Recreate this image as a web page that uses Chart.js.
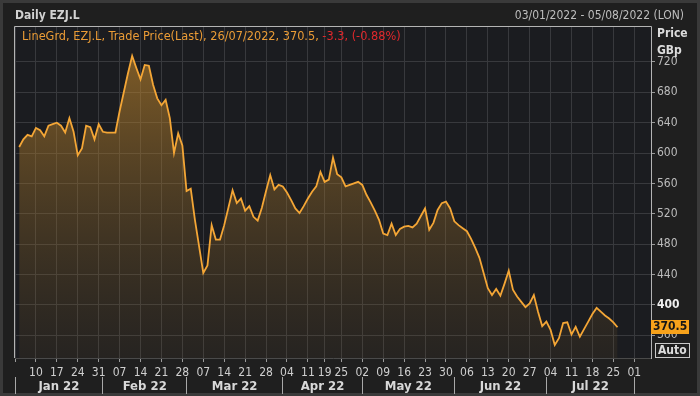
<!DOCTYPE html>
<html>
<head>
<meta charset="utf-8">
<title>Daily EZJ.L</title>
<script src="https://cdn.jsdelivr.net/npm/chart.js@4.4.0/dist/chart.umd.min.js"></script>
<style>
  html, body { margin: 0; padding: 0; background: #1e1e1e; }
  canvas { display: block; }
</style>
</head>
<body>
<canvas id="price-chart" width="700" height="396"></canvas>
<script>
// trading calendar shown on the axis (weekdays, Easter closed)
const START = "2022-01-03";
const END = "2022-08-05";
const HOLIDAYS = ["2022-04-15", "2022-04-18"];
const MONTH_NAMES = ["Jan", "Feb", "Mar", "Apr", "May", "Jun", "Jul", "Aug"];

// EZJ.L close, GBp, from 04/01/2022 to 26/07/2022
const PRICES = [
  608, 618, 624, 622, 633, 630, 622, 636, 638, 640,
  636, 627, 646, 628, 597, 606, 636, 634, 618, 638,
  628, 627, 627, 627, 655, 680, 705, 728, 712, 697,
  716, 715, 690, 672, 663, 670, 646, 600, 626, 610,
  550, 553, 512, 477, 442, 452, 505, 486, 486, 505,
  528, 551, 534, 540, 524, 530, 516, 511, 528, 550,
  571, 552, 558, 556, 548, 538, 527, 521, 530, 540,
  549, 556, 575, 562, 565, 594, 572, 568, 556, 558,
  560, 562, 558, 545, 535, 524, 512, 494, 492, 507,
  492, 500, 503, 504, 502, 507, 517, 527, 499, 508,
  525, 534, 536, 527, 510, 505, 501, 497, 487, 475,
  462, 442, 422, 413, 421, 412, 428, 445, 420, 411,
  404, 397, 402, 413, 391, 372, 378, 367, 347, 356,
  376, 377, 361, 371, 358, 368, 378, 388, 396, 391,
  386, 382, 377, 370.5
];
const LAST = 370.5;
const Y_TICKS = [360, 400, 440, 480, 520, 560, 600, 640, 680, 720];

const FONT = '"Liberation Sans Narrow", "DejaVu Sans Condensed", "Liberation Sans", sans-serif';
const ORANGE = "#f4a636";

// build the list of trading days
const DATES = [];
for (let d = new Date(START + "T00:00:00Z"); d <= new Date(END + "T00:00:00Z"); d.setUTCDate(d.getUTCDate() + 1)) {
  const dow = d.getUTCDay();
  const iso = d.toISOString().slice(0, 10);
  if (dow === 0 || dow === 6 || HOLIDAYS.includes(iso)) continue;
  DATES.push(new Date(d));
}
const LABELS = DATES.map((d) => d.toISOString().slice(0, 10));

// first trading day of each week / month
const WEEK_STARTS = DATES.map((d, i) => i).filter(
  (i) => i === 0 || DATES[i].getUTCDay() < DATES[i - 1].getUTCDay()
);
const MONTH_STARTS = DATES.map((d, i) => i).filter(
  (i) => i === 0 || DATES[i].getUTCMonth() !== DATES[i - 1].getUTCMonth()
);

const monthTicks = [];
MONTH_STARTS.forEach((s, k) => {
  monthTicks.push({ value: s, name: "", sep: true });
  const next = MONTH_STARTS[k + 1];
  if (next !== undefined) {
    monthTicks.push({
      value: (s + next) / 2,
      name: MONTH_NAMES[DATES[s].getUTCMonth()] + " 22",
      sep: false,
    });
  }
});

const decor = {
  id: "decor",
  beforeDraw(chart) {
    const { ctx, chartArea: a } = chart;
    ctx.save();
    ctx.fillStyle = "#1f1f1f";
    ctx.fillRect(0, 0, chart.width, chart.height);
    ctx.strokeStyle = "#3a3a3a";
    ctx.lineWidth = 3;
    ctx.strokeRect(1.5, 1.5, chart.width - 3, chart.height - 3);
    ctx.fillStyle = "#1b1c20";
    ctx.fillRect(a.left, a.top, a.right - a.left, a.bottom - a.top);
    ctx.restore();
  },
  afterDraw(chart) {
    const { ctx, chartArea: a } = chart;
    const y = chart.scales.y;
    ctx.save();

    // plot frame
    ctx.lineWidth = 1;
    ctx.strokeStyle = "#b4b4b4";
    ctx.beginPath();
    ctx.moveTo(a.left - 0.5, a.bottom);
    ctx.lineTo(a.left - 0.5, a.top - 0.5);
    ctx.lineTo(a.right + 0.5, a.top - 0.5);
    ctx.lineTo(a.right + 0.5, a.bottom);
    ctx.stroke();

    // header
    ctx.textBaseline = "middle";
    ctx.font = "bold 12px " + FONT;
    ctx.fillStyle = "#d2d2d2";
    ctx.textAlign = "left";
    ctx.fillText("Daily EZJ.L", 15, 16);
    ctx.font = "12px " + FONT;
    ctx.fillStyle = "#bdbdbd";
    ctx.textAlign = "right";
    ctx.fillText("03/01/2022 - 05/08/2022 (LON)", 684, 16);

    // legend line
    ctx.textAlign = "left";
    ctx.font = "12.6px " + FONT;
    const part1 = "LineGrd, EZJ.L, Trade Price(Last), 26/07/2022, 370.5, ";
    ctx.fillStyle = "#eb9c36";
    ctx.fillText(part1, 22, 37);
    ctx.fillStyle = "#e0282c";
    ctx.fillText("-3.3, (-0.88%)", 22 + ctx.measureText(part1).width, 37);

    // axis unit
    ctx.font = "bold 12px " + FONT;
    ctx.fillStyle = "#dcdcdc";
    ctx.fillText("Price", 657, 34);
    ctx.fillText("GBp", 657, 51);

    // last price tag
    const ty = Math.round(y.getPixelForValue(LAST));
    ctx.fillStyle = "#f7a21b";
    ctx.fillRect(a.right, ty - 7, 38, 14);
    ctx.fillStyle = "#161616";
    ctx.font = "bold 12px " + FONT;
    ctx.fillText(String(LAST), a.right + 2, ty);

    // Auto button
    ctx.strokeStyle = "#c8c8c8";
    ctx.strokeRect(655.5, 343.5, 34, 14);
    ctx.fillStyle = "#dcdcdc";
    ctx.fillText("Auto", 658, 351);
    ctx.restore();
  },
};

new Chart(document.getElementById("price-chart"), {
  type: "line",
  data: {
    labels: LABELS,
    datasets: [
      {
        label: "EZJ.L",
        data: [null].concat(PRICES),
        borderColor: ORANGE,
        borderWidth: 1.8,
        pointRadius: 0,
        tension: 0,
        fill: "start",
        backgroundColor: (c) => {
          const a = c.chart.chartArea;
          if (!a) return "rgba(200,140,45,0.4)";
          const g = c.chart.ctx.createLinearGradient(0, a.top, 0, a.bottom);
          g.addColorStop(0, "rgba(210,145,45,0.6)");
          g.addColorStop(1, "rgba(120,90,40,0.12)");
          return g;
        },
      },
    ],
  },
  options: {
    responsive: false,
    animation: false,
    layout: { padding: { left: 15, top: 27, right: 0, bottom: 2 } },
    plugins: {
      legend: { display: false },
      tooltip: { enabled: false },
    },
    scales: {
      x: {
        type: "category",
        position: "bottom",
        offset: false,
        afterBuildTicks: (scale) => {
          scale.ticks = WEEK_STARTS.map((i) => ({ value: i }));
        },
        afterFit: (scale) => {
          scale.height = 19;
        },
        ticks: {
          autoSkip: false,
          maxRotation: 0,
          padding: 4,
          color: "#cfcfcf",
          font: { family: FONT, size: 12 },
          callback: (value) =>
            value === 0 ? "" : String(DATES[value].getUTCDate()).padStart(2, "0"),
        },
        grid: {
          color: "#38393d",
          tickColor: "#9a9a9a",
          tickLength: 4,
        },
        border: { color: "#4a4a4a" },
      },
      months: {
        type: "category",
        position: "bottom",
        offset: false,
        afterBuildTicks: (scale) => {
          scale.ticks = monthTicks.map((t) => ({ ...t }));
        },
        afterFit: (scale) => {
          scale.height = 17;
        },
        ticks: {
          autoSkip: false,
          maxRotation: 0,
          padding: -15,
          color: "#d8d8d8",
          font: { family: FONT, size: 13, weight: "bold" },
          callback: (value, index, ticks) => ticks[index].name,
        },
        grid: {
          drawOnChartArea: false,
          tickLength: 17,
          tickColor: (c) => (c.tick && c.tick.sep ? "#a8a8a8" : "rgba(0,0,0,0)"),
        },
        border: { display: false },
      },
      y: {
        position: "right",
        min: 330,
        max: 766,
        afterBuildTicks: (scale) => {
          scale.ticks = Y_TICKS.map((v) => ({ value: v }));
        },
        afterFit: (scale) => {
          scale.width = 49;
        },
        ticks: {
          padding: 2,
          color: (c) => (c.tick && c.tick.value === 400 ? "#f0f0f0" : "#bcbcbc"),
          font: (c) => ({
            family: FONT,
            size: 12,
            weight: c.tick && c.tick.value === 400 ? "bold" : "normal",
          }),
        },
        grid: {
          color: "#38393d",
          tickColor: "#9a9a9a",
          tickLength: 4,
        },
        border: { color: "#b4b4b4" },
      },
    },
  },
  plugins: [decor],
});
</script>
</body>
</html>
